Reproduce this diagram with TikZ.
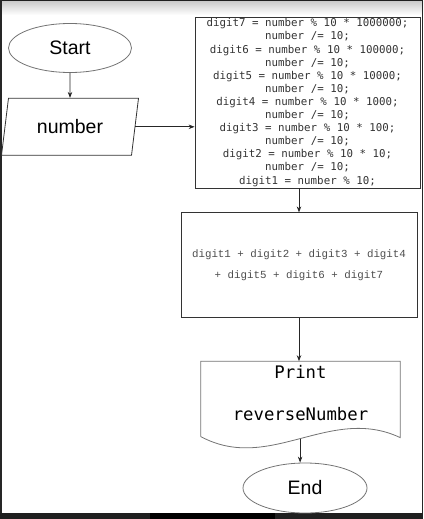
\documentclass[tikz,border=0pt]{standalone}
\usepackage{fontspec}
\setmainfont{Liberation Sans}
\newfontfamily\codefont{DejaVu Sans Mono}
\newfontfamily\sumfont{Liberation Mono}
\usepackage{xcolor}
\usepackage{tikz}
\usetikzlibrary{shapes,arrows.meta,positioning,calc}

\begin{document}
\begin{tikzpicture}[
    x=1pt, y=-1pt,
    >={Stealth[length=6pt,width=4.5pt]},
    terminal/.style={ellipse, draw=black!55, line width=0.8pt, minimum width=123pt, minimum height=49pt, font=\fontsize{19.5}{23}\selectfont},
    io/.style={trapezium, trapezium left angle=64, trapezium right angle=116, trapezium stretches body, draw=black!80, line width=0.8pt, minimum width=137pt, minimum height=57pt, inner sep=0pt, font=\fontsize{19.5}{23}\selectfont},
    process/.style={rectangle, draw=black!80, line width=0.8pt, align=center, inner sep=0pt},
    doctext/.style={rectangle, align=center, minimum width=199pt, minimum height=63pt, inner sep=0pt, font=\codefont\fontsize{17.3}{42}\selectfont},
    flow/.style={->, draw=black!85, line width=0.8pt}
]
\useasboundingbox (0,0) rectangle (423,519);

% window frame
\shade[top color=black!20, bottom color=white] (0,1.5) rectangle (423,15);
\fill[black!88] (0,0) rectangle (423,1.5);
\fill[black!85] (0,0) rectangle (1.5,519);
\fill[black!85] (421.5,0) rectangle (423,519);
\fill[black!88] (0,513) rectangle (423,519);
\fill[black] (150,513) rectangle (275,519);

\node[terminal] (start) at (70,48) {Start};
\node[io, below=25pt of start] (number) {number};

\node[process, minimum width=225pt, minimum height=171pt, text=black!80,
      font=\codefont\fontsize{10.8}{13.1}\selectfont] (code) at (307.5,102.5)
  {digit7 = number \% 10 * 1000000;\\ number /= 10;\\
   digit6 = number \% 10 * 100000;\\ number /= 10;\\
   digit5 = number \% 10 * 10000;\\ number /= 10;\\
   digit4 = number \% 10 * 1000;\\ number /= 10;\\
   digit3 = number \% 10 * 100;\\ number /= 10;\\
   digit2 = number \% 10 * 10;\\ number /= 10;\\
   digit1 = number \% 10;};

\node[process, below=24pt of code, xshift=-8.5pt, minimum width=236pt, minimum height=105pt,
      text=black!70, font=\sumfont\fontsize{10.8}{21}\selectfont] (sum)
  {digit1 + digit2 + digit3 + digit4\\ + digit5 + digit6 + digit7};

\node[doctext, below=43pt of sum, xshift=1.5pt] (doc) {Print\\ reverseNumber};
\draw[draw=black!55, line width=0.8pt] ([yshift=-12pt]doc.south west) -- (doc.north west) -- (doc.north east)
  -- ([yshift=-13pt]doc.south east) .. controls +(-70,-33) and +(69,37) .. ([yshift=-12pt]doc.south west)
  coordinate[pos=0.5] (docb);

\node[terminal, minimum width=124pt, minimum height=50pt] (end) at (305,488) {End};

\draw[flow] (start) -- (number);
\draw[flow] (number.east) -- (number.east -| code.west);
\draw[flow] (sum.north |- code.south) -- (sum.north);
\draw[flow] (sum.south) -- (sum.south |- doc.north);
\draw[flow] (docb) -- (docb |- end.north);

\end{tikzpicture}
\end{document}
